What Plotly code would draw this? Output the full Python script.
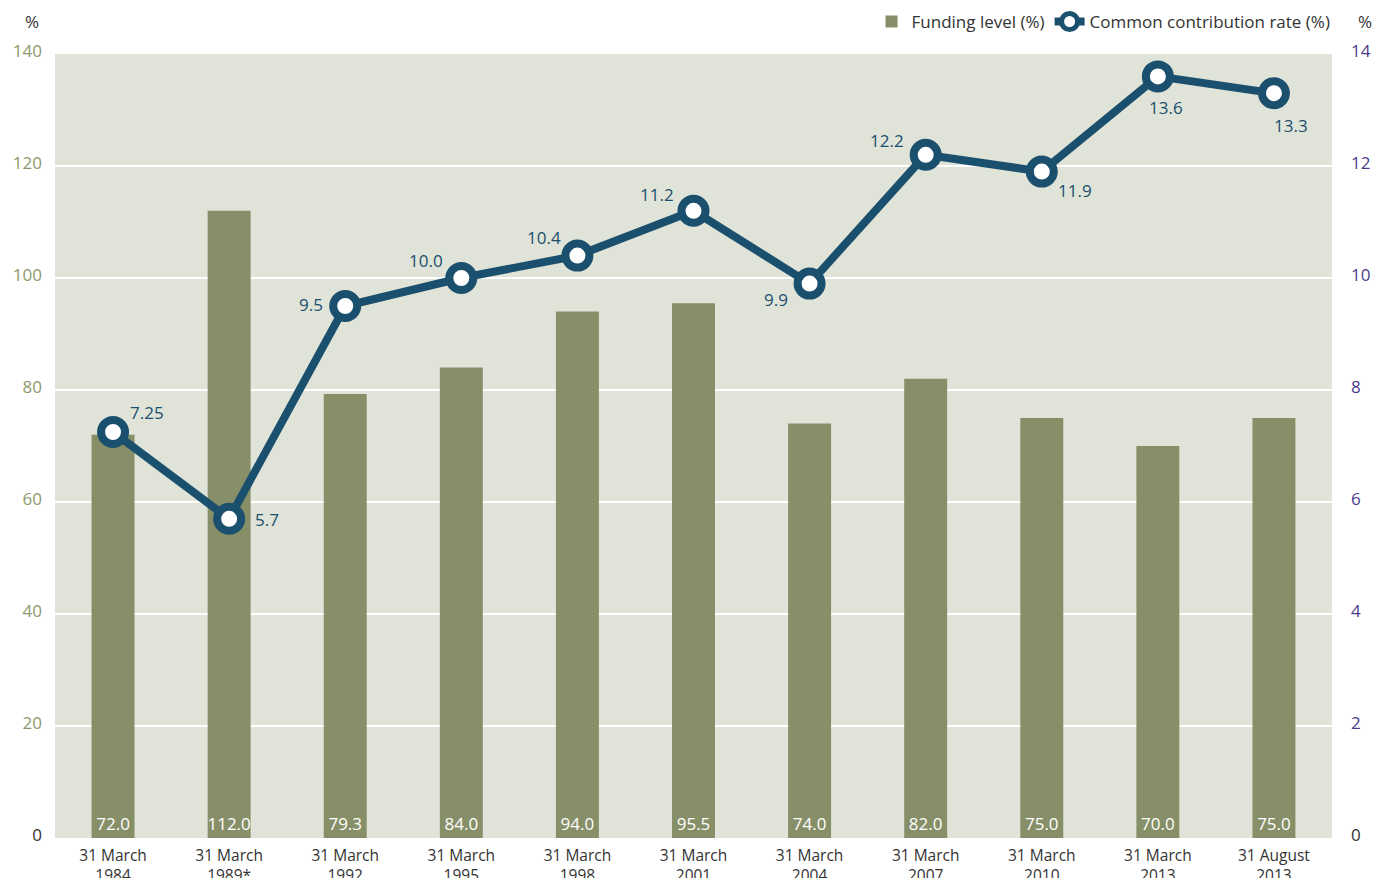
import plotly.graph_objects as go

categories = ["31 March<br>1984", "31 March<br>1989*", "31 March<br>1992", "31 March<br>1995",
              "31 March<br>1998", "31 March<br>2001", "31 March<br>2004", "31 March<br>2007",
              "31 March<br>2010", "31 March<br>2013", "31 August<br>2013"]
funding_level = [72.0, 112.0, 79.3, 84.0, 94.0, 95.5, 74.0, 82.0, 75.0, 70.0, 75.0]
contribution_rate = [7.25, 5.7, 9.5, 10.0, 10.4, 11.2, 9.9, 12.2, 11.9, 13.6, 13.3]
rate_labels = ["7.25", "5.7", "9.5", "10.0", "10.4", "11.2", "9.9", "12.2", "11.9", "13.6", "13.3"]
# pixel offsets of each rate label from its marker
label_dx = [34, 38, -34, -35, -33, -37, -34, -39, 33, 8, 17]
label_dy = [20, -1, 2, 18, 18, 16, -16, 14, -19, -31, -32]

left_ticks = [0, 20, 40, 60, 80, 100, 120, 140]
right_ticks = [0, 2, 4, 6, 8, 10, 12, 14]

OLIVE = "#878f68"
NAVY = "#1b4f6e"
DARK = "#333333"
FONT = "Open Sans"


def tick_text(vals):
    return [f'<span style="color:{DARK}">0</span>' if v == 0 else str(v) for v in vals]


fig = go.Figure()

fig.add_trace(go.Bar(
    x=categories, y=funding_level, name="Funding level (%)",
    marker=dict(color=OLIVE, line=dict(width=0)),
    width=0.37,
    text=[f"{v:.1f}" for v in funding_level],
    textposition="inside", insidetextanchor="start", constraintext="none",
    textfont=dict(color="white", size=17, family=FONT),
    textangle=0,
    yaxis="y",
))

fig.add_trace(go.Scatter(
    x=categories, y=contribution_rate, name="Common contribution rate (%)",
    mode="lines+markers",
    line=dict(color=NAVY, width=8),
    marker=dict(size=24, color="white", line=dict(color=NAVY, width=8)),
    yaxis="y2", cliponaxis=False,
))

annotations = [
    dict(x=c, y=v, xref="x", yref="y2", text=t, showarrow=False,
         xshift=dx, yshift=dy, font=dict(size=17, color=NAVY))
    for c, v, t, dx, dy in zip(categories, contribution_rate, rate_labels, label_dx, label_dy)
]
annotations += [
    dict(text="%", xref="paper", yref="paper", x=-0.018, y=1.041, xanchor="center",
         yanchor="middle", showarrow=False, font=dict(size=17, color=DARK)),
    dict(text="%", xref="paper", yref="paper", x=1.0258, y=1.041, xanchor="center",
         yanchor="middle", showarrow=False, font=dict(size=17, color=DARK)),
]

fig.update_layout(
    width=1374, height=878,
    margin=dict(l=55, r=42, t=54, b=40, autoexpand=False),
    paper_bgcolor="white", plot_bgcolor="#dfe3d8",
    font=dict(family=FONT, size=17, color=DARK),
    showlegend=True,
    legend=dict(orientation="h", x=0.972, xanchor="right", xref="container",
                y=0.975, yanchor="middle", yref="container",
                font=dict(size=17, color=DARK), bgcolor="rgba(0,0,0,0)",
                traceorder="normal"),
    xaxis=dict(range=[-0.5, 10.5], showgrid=False, tickfont=dict(size=15.5, color=DARK),
               ticks="", showline=False, zeroline=False, automargin=False,
               ticklabelstandoff=6),
    yaxis=dict(range=[0, 140], tickvals=left_ticks, ticktext=tick_text(left_ticks),
               showgrid=True, gridcolor="white", gridwidth=2,
               zeroline=False, tickfont=dict(size=17, color="#8c9a6c"),
               ticklabelstandoff=12, ticklabelshift=-3, automargin=False),
    yaxis2=dict(range=[0, 14], tickvals=right_ticks, ticktext=tick_text(right_ticks),
                overlaying="y", side="right", showgrid=False,
                zeroline=False, tickfont=dict(size=17, color="#4b3c8a"),
                ticklabelstandoff=18, ticklabelshift=-3, automargin=False),
    annotations=annotations,
)

fig.write_html("out.html")
